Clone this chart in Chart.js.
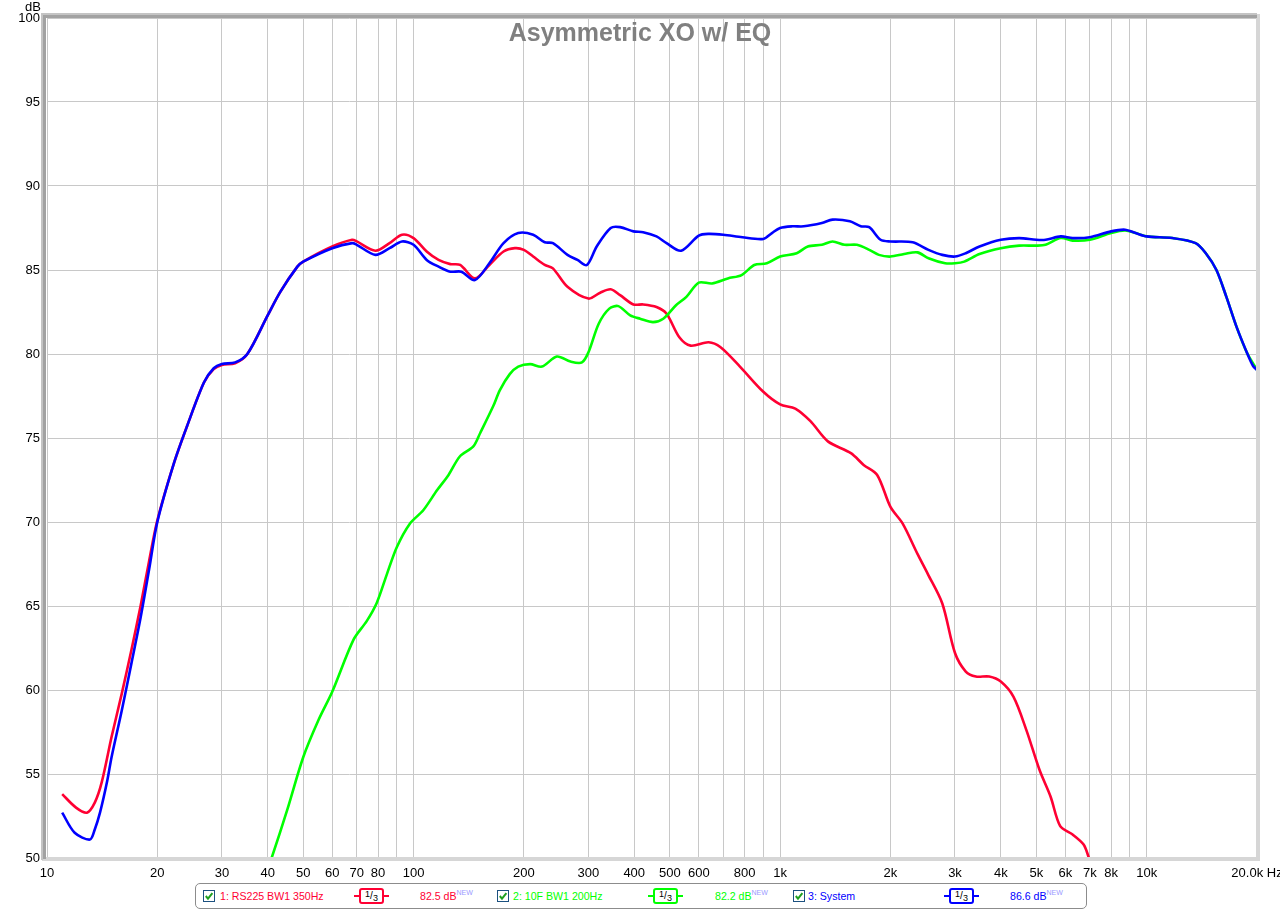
<!DOCTYPE html>
<html>
<head>
<meta charset="utf-8">
<script src="https://cdn.jsdelivr.net/npm/chart.js@4/dist/chart.umd.min.js"></script>
<style>
  html, body { margin:0; padding:0; background:#fff; }
  #wrap { position:relative; width:1280px; height:911px; overflow:hidden; font-family:"Liberation Sans", Arial, sans-serif; }
  #c { position:absolute; left:0; top:0; }
  #legend { position:absolute; left:195px; top:883px; width:890px; height:24px; border:1px solid #8c8c8c; border-radius:5px; background:#fff; font-size:10.6px; }
  #legend .a { position:absolute; top:6px; height:13px; line-height:13px; white-space:nowrap; }
  #legend .cb { position:absolute; top:6px; width:12px; height:12px; }
  #legend .sym { position:absolute; top:4px; width:35px; height:16px; }
  #legend .sym .ln { position:absolute; left:0; right:0; top:7px; height:2px; }
  #legend .sym .bx { position:absolute; left:5px; top:0; width:21px; height:12px; border:2px solid; border-radius:3px; background:#fff; color:#000; font-size:10px; line-height:12px; text-align:center; }
  #legend .sym .bx .n { position:relative; top:-2px; font-size:9px; }
  #legend .sym .bx .d { position:relative; top:2px; font-size:9px; }
  #legend .new { position:relative; top:-5px; font-size:7px; color:#9a9aff; }
</style>
</head>
<body>
<div id="wrap">
  <canvas id="c" width="1280" height="911"></canvas>
  <div id="legend"></div>
</div>
<script>
// ---------------- DATA ----------------
const chartTitle = "Asymmetric XO w/ EQ";
const yUnit = "dB";

const xTickValues = [10,20,30,40,50,60,70,80,90,100,200,300,400,500,600,700,800,900,1000,2000,3000,4000,5000,6000,7000,8000,9000,10000,20000];
const xTickLabels = ["10","20","30","40","50","60","70","80","","100","200","300","400","500","600","","800","","1k","2k","3k","4k","5k","6k","7k","8k","","10k","20.0k Hz"];
const yTickValues = [50,55,60,65,70,75,80,85,90,95,100];

const seriesNames = ["1: RS225 BW1 350Hz", "2: 10F BW1 200Hz", "3: System"];
const seriesAvg = ["82.5 dB", "82.2 dB", "86.6 dB"];
const seriesColors = ["#ff0033", "#00ff00", "#0000ff"];

const redFreq = [11,12,12.85,13.5,14.1,15,16,17,18,19,20,22.2,24.1,26.8,28.5,30,32.6,35.2,40,43.3,48.2,50,60,68,70,78.7,86,93,100,108.6,117,126,134,147,161,176,189,200,212,228,240,263,300,323,345,366,398,423,460,490,531,570,638,688,777,900,1000,1100,1210,1350,1560,1690,1840,2000,2160,2370,2530,2770,3000,3210,3420,3720,4000,4330,4700,5100,5470,5810,6280,6730,6960,7150];
const redDb   = [53.8,53.0,52.7,53.3,54.5,57.2,59.8,62.4,65.0,67.7,70.1,73.5,75.7,78.3,79.1,79.35,79.45,80.0,82.3,83.7,85.2,85.5,86.4,86.8,86.7,86.15,86.6,87.1,86.9,86.1,85.6,85.35,85.3,84.5,85.3,86.1,86.3,86.2,85.8,85.3,85.1,84.0,83.3,83.65,83.85,83.5,82.95,82.95,82.8,82.4,81.0,80.5,80.7,80.4,79.25,77.75,77.0,76.75,76.0,74.8,74.1,73.4,72.8,70.9,69.9,68.1,66.9,65.15,62.2,61.1,60.8,60.8,60.5,59.6,57.6,55.25,53.65,51.9,51.4,50.8,50.0,49.3];

const greenFreq = [40,41,45.2,50,55,60,68.6,74.5,79.4,84.6,90,97.7,106.3,116,124.6,133.7,145.6,152,165,172,183,193,208,224,246,268,288,300,320,342,362,390,415,450,480,520,555,600,652,720,785,850,920,1000,1110,1190,1300,1390,1500,1620,1750,1860,2000,2180,2370,2540,2820,3000,3180,3500,4000,4490,5000,5300,5830,6280,7000,8000,8730,9330,10000,11750,13600,14500,15500,16500,17600,18800,20000];
const greenDb   = [49.4,50.0,52.85,56.0,58.2,59.9,63.0,64.1,65.2,66.9,68.5,69.9,70.7,71.9,72.8,73.9,74.5,75.3,76.9,77.85,78.8,79.25,79.4,79.25,79.85,79.55,79.5,80.1,81.8,82.7,82.85,82.3,82.1,81.9,82.1,82.9,83.4,84.25,84.2,84.5,84.7,85.3,85.4,85.8,86.0,86.4,86.5,86.7,86.5,86.5,86.2,85.9,85.8,85.95,86.05,85.7,85.4,85.4,85.5,85.95,86.3,86.45,86.45,86.5,86.9,86.75,86.8,87.2,87.35,87.2,87.0,86.9,86.6,86.0,85.0,83.4,81.6,80.05,79.05];

const blueFreq = [11,11.9,13.1,13.5,13.95,14.6,15,16,17,18,19,20,22.2,24.1,26.8,28.5,30,32.6,35.2,40,43.3,48.2,50,60,68,70,78.7,86,93,100,108.6,117,126,135,147,161,176,193,212,228,240,263,280,297,316,345,366,398,423,460,490,537,600,638,700,789,900,950,1000,1080,1160,1300,1390,1550,1660,1750,1880,2000,2300,2540,2770,3000,3210,3500,4000,4490,5000,5300,5830,6280,7000,8000,8730,9330,10000,11750,13600,14500,15500,16500,17600,18800,19500,20000];
const blueDb   = [52.7,51.5,51.1,51.7,52.7,54.6,56.0,58.8,61.6,64.3,67.2,70.0,73.5,75.7,78.3,79.15,79.4,79.5,80.0,82.3,83.7,85.2,85.5,86.3,86.6,86.5,85.9,86.3,86.7,86.5,85.6,85.2,84.9,84.9,84.4,85.4,86.6,87.2,87.1,86.65,86.6,85.9,85.6,85.3,86.4,87.5,87.55,87.3,87.25,87.0,86.6,86.15,87.05,87.15,87.1,86.95,86.85,87.2,87.5,87.6,87.6,87.8,88.0,87.9,87.6,87.55,86.8,86.7,86.65,86.2,85.9,85.8,86.0,86.4,86.8,86.9,86.8,86.8,87.0,86.9,86.95,87.3,87.4,87.2,87.0,86.9,86.6,86.0,85.0,83.4,81.6,80.05,79.3,79.05];

// ---------------- HELPERS ----------------
const pts = (fs, ds) => fs.map((f, i) => ({ x: f, y: ds[i] }));
const FONT = '"Liberation Sans", Arial, sans-serif';

const framePlugin = {
  id: 'frame',
  afterDraw(chart) {
    const { ctx, chartArea: a } = chart;
    ctx.save();
    ctx.fillStyle = '#d6d6d6';
    ctx.fillRect(a.right - 1, a.top - 4, 4, a.bottom - a.top + 7);
    ctx.fillRect(a.left - 5, a.bottom - 1, a.right - a.left + 8, 4);
    ctx.fillStyle = '#c4c4c4';
    ctx.fillRect(a.left - 6, a.top - 5, a.right - a.left + 6, 2);
    ctx.fillRect(a.left - 6, a.top - 5, 2, a.bottom - a.top + 7);
    ctx.fillStyle = '#a2a2a2';
    ctx.fillRect(a.left - 4, a.top - 3, a.right - a.left + 4, 3);
    ctx.fillRect(a.left - 4, a.top - 3, 3, a.bottom - a.top + 4);
    ctx.fillStyle = '#808080';
    ctx.font = 'bold 25px ' + FONT;
    ctx.textAlign = 'center';
    ctx.textBaseline = 'alphabetic';
    ctx.fillText(chartTitle, 640, 41);
    ctx.fillStyle = '#000';
    ctx.font = '13px ' + FONT;
    ctx.textBaseline = 'middle';
    ctx.fillText(yUnit, 33, 7);
    ctx.restore();
  }
};

new Chart(document.getElementById('c'), {
  type: 'scatter',
  data: {
    datasets: [
      { label: seriesNames[0], data: pts(redFreq, redDb), borderColor: seriesColors[0], order: 2 },
      { label: seriesNames[1], data: pts(greenFreq, greenDb), borderColor: seriesColors[1], order: 1 },
      { label: seriesNames[2], data: pts(blueFreq, blueDb), borderColor: seriesColors[2], order: 0 }
    ].map(d => Object.assign(d, { showLine: true, pointRadius: 0, borderWidth: 2.6, tension: 0.3, fill: false, borderJoinStyle: 'round' }))
  },
  options: {
    responsive: false,
    animation: false,
    devicePixelRatio: 1,
    layout: { padding: { top: 18, right: 23, left: 0, bottom: 0 } },
    plugins: { legend: { display: false }, tooltip: { enabled: false }, title: { display: false } },
    scales: {
      x: {
        type: 'logarithmic', min: 10, max: 20000,
        afterBuildTicks: s => { s.ticks = xTickValues.map(v => ({ value: v })); },
        afterFit: s => { s.height = 53; s.paddingLeft = 0; s.paddingRight = 0; },
        border: { display: false },
        grid: { color: '#c8c8c8', lineWidth: 1, drawTicks: false },
        ticks: {
          autoSkip: false, maxRotation: 0, minRotation: 0, padding: 8,
          color: '#000', font: { family: FONT, size: 13 },
          callback: (v, i) => xTickLabels[i]
        }
      },
      y: {
        min: 50, max: 100,
        afterBuildTicks: s => { s.ticks = yTickValues.map(v => ({ value: v })); },
        afterFit: s => { s.width = 47; },
        border: { display: false },
        grid: { color: '#c8c8c8', lineWidth: 1, drawTicks: false },
        ticks: { padding: 7, color: '#000', font: { family: FONT, size: 13 }, callback: v => String(v) }
      }
    }
  },
  plugins: [framePlugin]
});

// ---------------- LEGEND ----------------
const legendX = { cb: [7, 301, 597], txt: [24, 317, 612], sym: [158, 452, 748], val: [224, 519, 814] };
const lg = document.getElementById('legend');
const cbSvg = '<svg width="12" height="12"><rect x="0.5" y="0.5" width="11" height="11" fill="#fff" stroke="#1c5180"/><path d="M2.8 6 L5 8.6 L9.4 3.2" stroke="#1fa01f" stroke-width="2" fill="none"/></svg>';
let html = '';
seriesNames.forEach((n, i) => {
  const c = seriesColors[i];
  html += `<div class="cb" style="left:${legendX.cb[i]}px">${cbSvg}</div>`;
  html += `<div class="a" style="left:${legendX.txt[i]}px;color:${c}">${n}</div>`;
  html += `<div class="sym" style="left:${legendX.sym[i]}px"><div class="ln" style="background:${c}"></div><div class="bx" style="border-color:${c}"><span class="n">1</span>/<span class="d">3</span></div></div>`;
  html += `<div class="a" style="left:${legendX.val[i]}px;color:${c}">${seriesAvg[i]}<span class="new">NEW</span></div>`;
});
lg.innerHTML = html;
</script>
</body>
</html>
